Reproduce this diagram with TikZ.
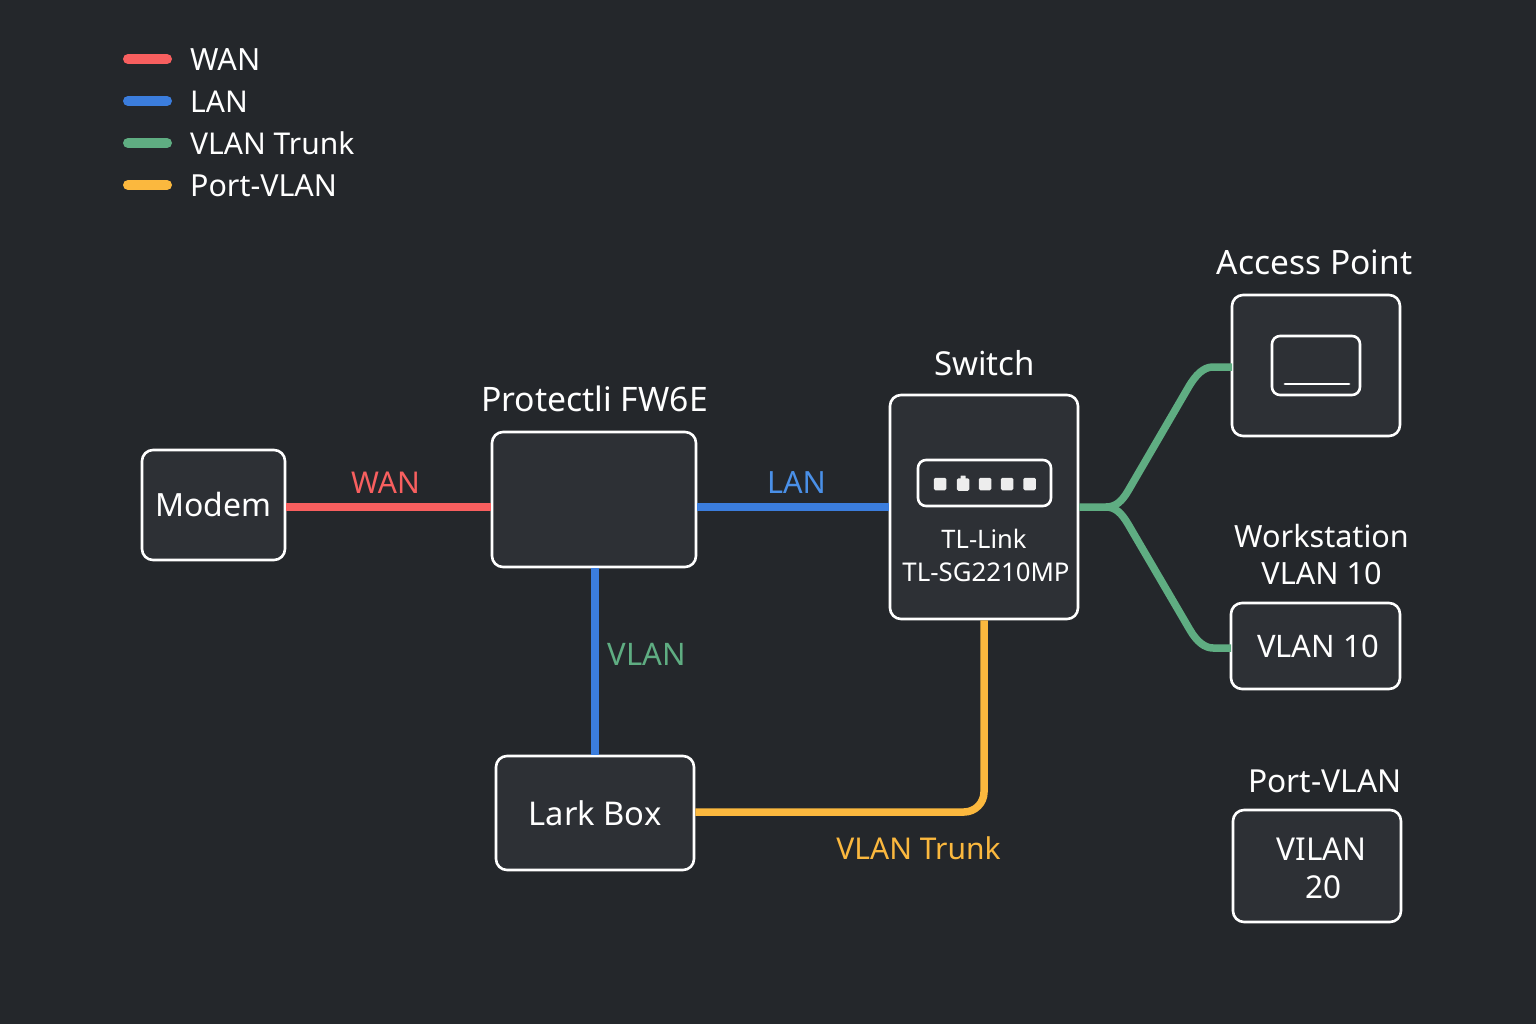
\documentclass[tikz,border=0pt]{standalone}
\usepackage{fontspec}
\setmainfont{Noto Sans}
\definecolor{bgc}{HTML}{24272B}
\definecolor{boxc}{HTML}{2D3035}
\definecolor{wanc}{HTML}{F85F5F}
\definecolor{lanc}{HTML}{3B7DDD}
\definecolor{trunkc}{HTML}{5FAD82}
\definecolor{portc}{HTML}{FBB83E}
\definecolor{lanlab}{HTML}{4A90E8}
\definecolor{portdot}{HTML}{EDEDED}
\newcommand{\fsz}[1]{\fontsize{#1}{37}\selectfont}
\tikzset{
  x=1pt,y=-1pt,
  devbox/.style={draw=white,fill=boxc,line width=2.6pt,rounded corners=11pt,inner sep=0pt,align=center,text=white},
  innerbox/.style={draw=white,line width=2.6pt,rounded corners=8pt,inner sep=0pt,fill=boxc},
  lbl/.style={text=white,inner sep=0pt,align=center},
  wire/.style={line width=7.5pt},
  legbar/.style={line width=10pt,line cap=round},
  legtxt/.style={text=white,inner sep=0pt,anchor=west},
  edgetxt/.style={inner sep=0pt},
  portsq/.style={fill=portdot,rounded corners=1.5pt,inner sep=0pt,minimum width=12.5pt,minimum height=12.5pt},
}
\begin{document}
\begin{tikzpicture}
\useasboundingbox (0,0) rectangle (1536,1024);
\fill[bgc] (0,0) rectangle (1536,1024);

% legend
\coordinate (la1) at (128,59); \coordinate (lb1) at (167,59);
\coordinate (la2) at (128,101); \coordinate (lb2) at (167,101);
\coordinate (la3) at (128,143); \coordinate (lb3) at (167,143);
\coordinate (la4) at (128,185); \coordinate (lb4) at (167,185);
\draw[legbar,wanc] (la1) -- (lb1);
\draw[legbar,lanc] (la2) -- (lb2);
\draw[legbar,trunkc] (la3) -- (lb3);
\draw[legbar,portc] (la4) -- (lb4);
\node[legtxt,font=\fsz{30.6}] (lt1) at (190,60) {WAN};
\node[legtxt,font=\fsz{30}] (lt2) at (190,101.5) {LAN};
\node[legtxt,font=\fsz{30}] (lt3) at (190,143.5) {VLAN Trunk};
\node[legtxt,font=\fsz{30.4}] (lt4) at (190,185.5) {Port-VLAN};

% devices
\node[devbox,minimum width=143pt,minimum height=110pt,font=\fsz{32}] (modem) at (213.5,505) {\raisebox{1.5pt}{Modem}};
\node[devbox,minimum width=204pt,minimum height=135pt] (fw) at (594,499.5) {};
\node[devbox,minimum width=188pt,minimum height=224pt] (sw) at (984,507) {};
\node[devbox,minimum width=168pt,minimum height=141pt] (ap) at (1316,365.5) {};
\node[devbox,minimum width=169pt,minimum height=86pt,font=\fsz{31}] (ws) at (1315.5,646) {\hspace{5pt}VLAN 10};
\node[devbox,minimum width=198pt,minimum height=114pt,font=\fsz{32.7}] (lark) at (595,813) {Lark Box};
\node[devbox,minimum width=168pt,minimum height=112pt] (v20) at (1317,866) {};
\node[lbl,font=\fsz{31.5}] (v20t) at (1321.5,868.5) {VILAN\\[1pt]\hspace{4pt}20};

% inner details
\node[innerbox,minimum width=133pt,minimum height=46pt] (ports) at (984.5,483) {};
\node[portsq] (p1) at (940,484) {};
\node[portsq] (p2) at (963,484.5) {};
\node[portsq,minimum width=5pt,minimum height=4pt,rounded corners=0.5pt] (p2t) at (963,477.5) {};
\node[portsq] (p3) at (985,484) {};
\node[portsq] (p4) at (1007,484) {};
\node[portsq] (p5) at (1029.5,484) {};
\node[lbl,font=\fsz{25.5}] (swt1) at (984,539) {TL-Link};
\node[lbl,font=\fsz{25.8}] (swt2) at (986,572.5) {TL-SG2210MP};
\node[innerbox,minimum width=88pt,minimum height=59pt] (apin) at (1316,365.5) {};
\coordinate (apa) at (1285,384); \coordinate (apb) at (1349,384);
\draw[white,line width=2.8pt,line cap=round] (apa) -- (apb);

% titles
\node[lbl,font=\fsz{33.7}] (tfw) at (594.5,399) {Protectli FW6E};
\node[lbl,font=\fsz{33}] (tsw) at (984.5,363.5) {Switch};
\node[lbl,font=\fsz{33.5}] (tap) at (1314.5,262.5) {Access Point};
\node[lbl,font=\fsz{30.6}] (tws) at (1321.5,555) {Workstation\\VLAN 10};
\node[lbl,font=\fsz{31.7}] (tpv) at (1325,781.5) {Port-VLAN};

% edge labels
\node[edgetxt,text=wanc,font=\fsz{30}] (ewan) at (385.5,482.5) {WAN};
\node[edgetxt,text=lanlab,font=\fsz{30.6}] (elan) at (796.5,482.5) {LAN};
\node[edgetxt,text=trunkc,font=\fsz{31}] (evlan) at (647,654.5) {VLAN};
\node[edgetxt,text=portc,font=\fsz{30}] (etr) at (918.5,848.5) {VLAN Trunk};

% connectors
\coordinate (j) at (1106,507);
\coordinate (ape) at (1232,367);
\coordinate (wse) at (1231,648);
\draw[wire,wanc] ([yshift=-2pt]modem.east) -- ([yshift=-7.5pt]fw.west);
\draw[wire,lanc] ([yshift=-7.5pt]fw.east) -- (sw.west);
\draw[wire,lanc] (lark.north |- fw.south) -- (lark.north);
\draw[wire,portc,rounded corners=20pt] (lark.east |- 0,812) -- (sw.south |- 0,812) -- (sw.south);
\draw[wire,trunkc] (sw.east) -- (j)
   .. controls (1116,507) and (1122,501) .. (1128,491)
   -- (1188,388) .. controls (1196,374) and (1204,367) .. (1213,367) -- (ape);
\draw[wire,trunkc] (j) .. controls (1116,507) and (1122,514) .. (1128,524)
   -- (1190,630) .. controls (1197,642) and (1205,648) .. (1213,648) -- (wse);
\end{tikzpicture}
\end{document}
